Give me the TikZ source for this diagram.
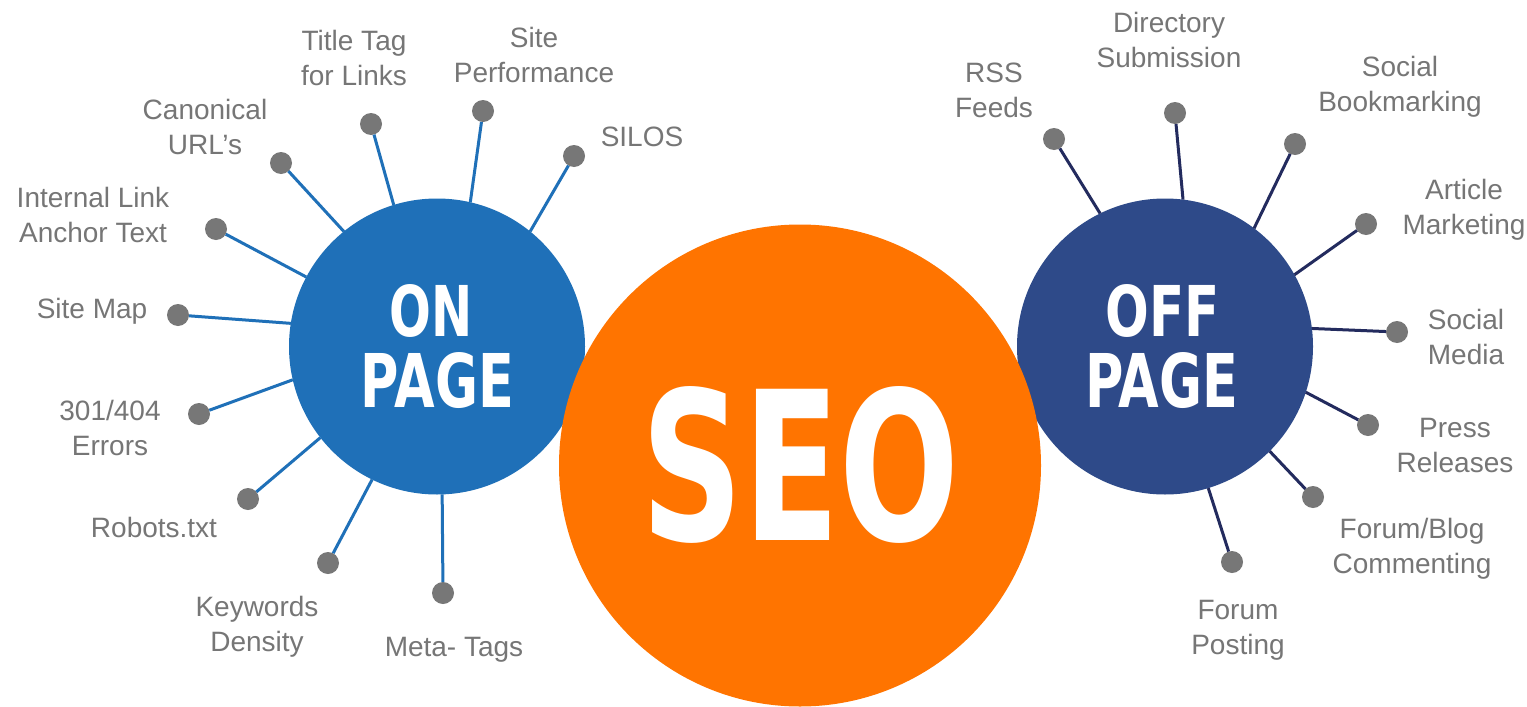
\documentclass[tikz,border=0pt]{standalone}
\usepackage{fontspec}
\setmainfont{Liberation Sans}
\newfontfamily\hubfont{DejaVu Sans}
\usepackage{graphicx}
\definecolor{onblue}{HTML}{1F70B8}
\definecolor{offnavy}{HTML}{2E4A89}
\definecolor{seoorange}{HTML}{FF7400}
\definecolor{offline}{HTML}{232B5E}
\definecolor{labelgray}{HTML}{767676}
\definecolor{dotgray}{HTML}{777777}
\tikzset{
  lbl/.style={text=labelgray, font=\fontsize{28}{35}\selectfont, align=center, inner sep=0pt, outer sep=0pt},
  endpt/.style={circle, fill=dotgray, minimum size=22pt, inner sep=0pt, outer sep=0pt},
  onlink/.style={draw=onblue, line width=3pt},
  offlink/.style={draw=offline, line width=3pt},
  hub/.style={circle, inner sep=0pt, outer sep=0pt, minimum size=296pt},
  hubtext/.style={text=white, inner sep=0pt, outer sep=0pt, font=\hubfont\bfseries}
}
\begin{document}
\begin{tikzpicture}[x=1pt,y=-1pt]
\useasboundingbox[fill=white] (0,0) rectangle (1527,707);
% hubs
\node[hub, fill=onblue] (on) at (437,346.5) {};
\node[hub, fill=offnavy] (off) at (1165,346.5) {};
\node[circle, inner sep=0pt, outer sep=0pt, minimum size=482pt, fill=seoorange] (seo) at (800,465.5) {};
% hub texts
\node[hubtext] (ontxt) at (431.5,311) {\resizebox{83pt}{52pt}{ON}};
\node[hubtext] (onpage) at (437.5,380.5) {\resizebox{153pt}{55pt}{PAGE}};
\node[hubtext] (offtxt) at (1163,311) {\resizebox{114pt}{52pt}{OFF}};
\node[hubtext] (offpage) at (1161.5,380.5) {\resizebox{153pt}{55pt}{PAGE}};
\node[hubtext] (seotxt) at (801,465) {\resizebox{318pt}{154pt}{SEO}};
% ON PAGE end points
\node[endpt] (c1) at (281,163) {};
\node[endpt] (c2) at (371,124) {};
\node[endpt] (c3) at (483,111) {};
\node[endpt] (c4) at (574,156) {};
\node[endpt] (c5) at (216,229) {};
\node[endpt] (c6) at (178,315) {};
\node[endpt] (c7) at (199,414) {};
\node[endpt] (c8) at (248,499) {};
\node[endpt] (c9) at (328,563) {};
\node[endpt] (c10) at (443,593) {};
\draw[onlink] (c1) -- (on.129.5);
\draw[onlink] (c2) -- (on.107.5);
\draw[onlink] (c3) -- (on.77);
\draw[onlink] (c4) -- (on.51.3);
\draw[onlink] (c5) -- (on.152.4);
\draw[onlink] (c6) -- (on.171);
\draw[onlink] (c7) -- (on.193.2);
\draw[onlink] (c8) -- (on.218.8);
\draw[onlink] (c9) -- (on.244);
\draw[onlink] (c10) -- (on.272);
% OFF PAGE end points
\node[endpt] (r1) at (1054,139) {};
\node[endpt] (r2) at (1175,113) {};
\node[endpt] (r3) at (1295,144) {};
\node[endpt] (r4) at (1366,224) {};
\node[endpt] (r5) at (1397,332) {};
\node[endpt] (r6) at (1368,425) {};
\node[endpt] (r7) at (1313,497) {};
\node[endpt] (r8) at (1232,562) {};
\draw[offlink] (r1) -- (off.116.1);
\draw[offlink] (r2) -- (off.83);
\draw[offlink] (r3) -- (off.53.6);
\draw[offlink] (r4) -- (off.29);
\draw[offlink] (r5) -- (off.7);
\draw[offlink] (r6) -- (off.342.7);
\draw[offlink] (r7) -- (off.315.3);
\draw[offlink] (r8) -- (off.287.7);
% labels left
\node[lbl] (l1) at (354,60.5) {\strut Title Tag\\\strut for Links};
\node[lbl] (l2) at (534,57.5) {\strut Site\\\strut Performance};
\node[lbl] (l3) at (205,129.5) {\strut Canonical\\\strut URL’s};
\node[lbl] (l4) at (642,139) {\strut SILOS};
\node[lbl] (l5) at (93,217.5) {\strut Internal Link\\\strut Anchor Text};
\node[lbl] (l6) at (92,311) {\strut Site Map};
\node[lbl] (l7) at (110,430.5) {\strut 301/404\\\strut Errors};
\node[lbl] (l8) at (154,530) {\strut Robots.txt};
\node[lbl] (l9) at (257,626.5) {\strut Keywords\\\strut Density};
\node[lbl] (l10) at (454,649) {\strut Meta- Tags};
% labels right
\node[lbl] (m1) at (994,92.5) {\strut RSS\\\strut Feeds};
\node[lbl] (m2) at (1169,42.5) {\strut Directory\\\strut Submission};
\node[lbl] (m3) at (1400,86.5) {\strut Social\\\strut Bookmarking};
\node[lbl] (m4) at (1464,209.5) {\strut Article\\\strut Marketing};
\node[lbl] (m5) at (1466,339.5) {\strut Social\\\strut Media};
\node[lbl] (m6) at (1455,447.5) {\strut Press\\\strut Releases};
\node[lbl] (m7) at (1412,548.5) {\strut Forum/Blog\\\strut Commenting};
\node[lbl] (m8) at (1238,629.5) {\strut Forum\\\strut Posting};
\end{tikzpicture}
\end{document}
